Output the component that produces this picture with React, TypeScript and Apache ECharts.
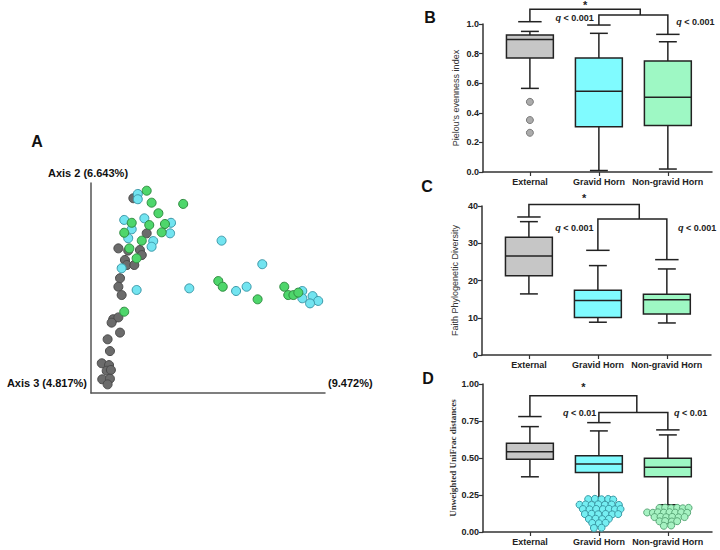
import React, { useEffect, useRef } from 'react';
import * as echarts from 'echarts';

// ---------- shared ----------
const categories = ['External', 'Gravid Horn', 'Non-gravid Horn'];
const categoryPositions = [0, 1, 2];
const boxFills = ['#c6c6c6', '#80fbff', '#9ef8c4'];

// ---------- Panel A: PCoA (arbitrary axis units) ----------
const pcoaExternal = [
  [18.1, 92.5], [23.8, 75.2], [11.7, 67.8], [15.9, 66.7], [20.9, 67.0], [21.7, 64.5],
  [14.5, 62.1], [15.3, 59.6], [18.5, 59.6], [12.4, 53.1], [11.7, 48.9], [13.1, 44.8],
  [9.5, 32.9], [11.7, 33.8], [8.8, 31.2], [12.4, 26.3], [7.1, 23.0], [8.1, 17.2],
  [4.6, 11.2], [7.7, 10.3], [6.7, 7.5], [8.5, 7.9], [4.8, 3.3], [8.1, 3.6], [7.1, 0.8],
];
const pcoaGravid = [
  [20.0, 94.6], [20.0, 92.0], [14.2, 81.8], [22.8, 82.6], [34.2, 80.4], [33.8, 75.2],
  [17.4, 77.2], [15.9, 72.8], [26.6, 71.4], [25.9, 68.6], [13.1, 58.0], [19.5, 47.3],
  [55.8, 71.6], [73.2, 60.0], [42.0, 48.1], [62.0, 46.8], [66.5, 48.9], [90.3, 46.8],
  [94.7, 44.3], [97.1, 41.9], [90.3, 43.2], [93.6, 40.7],
];
const pcoaNonGravid = [
  [23.8, 96.2], [25.9, 90.3], [39.4, 89.7], [28.8, 85.1], [17.4, 80.4], [24.9, 79.3],
  [31.6, 79.8], [14.2, 75.5], [30.2, 75.7], [21.7, 71.6], [16.4, 67.8], [19.5, 62.9],
  [14.2, 36.6], [54.4, 51.7], [56.3, 48.9], [71.2, 42.7], [82.6, 48.9], [84.3, 44.8],
  [86.5, 44.8], [88.6, 46.0],
];

// ---------- Panel B: Pielou's evenness ----------
// [category, lowerWhisker, q1, median, q3, upperWhisker]
const pielouBoxes = [
  [0, 0.565, 0.77, 0.895, 0.925, 0.95],
  [1, 0.01, 0.305, 0.545, 0.77, 0.937],
  [2, 0.02, 0.315, 0.505, 0.75, 0.88],
];
const pielouOutliers = [[0, 0.474], [0, 0.351], [0, 0.265]];
// [xLeft, yLeftStart, xRight, yRightStart, yTop, rightCap]
const pielouBrackets = [
  [0, 1.0155, 1.6, 1.06, 1.1, 0],
  [1, 0.993, 2, 0.93, 1.06, 1],
];
const pielouNotePos = [[0.65, 1.043], [2.4, 1.013], [0.8, 1.13]];
const pielouNoteText = ['q < 0.001', 'q < 0.001', '*'];

// ---------- Panel C: Faith PD ----------
const faithBoxes = [
  [0, 16.4, 21.3, 26.6, 31.6, 35.8],
  [1, 8.8, 10.1, 14.6, 17.4, 24.0],
  [2, 8.6, 11.0, 14.8, 16.3, 23.1],
];
const faithBrackets = [
  [0, 37.05, 1.6, 36.5, 40.4, 0],
  [1, 28.1, 2, 25.6, 36.5, 1],
];
const faithNotePos = [[0.66, 34.2], [2.44, 34.1], [0.8, 42.2]];
const faithNoteText = ['q < 0.001', 'q < 0.001', '*'];

// ---------- Panel D: Unweighted UniFrac ----------
const unifracBoxes = [
  [0, 0.373, 0.492, 0.543, 0.6, 0.712],
  [1, 0.229, 0.402, 0.46, 0.515, 0.683],
  [2, 0.184, 0.373, 0.438, 0.499, 0.656],
];
const unifracBrackets = [
  [0, 0.78, 1.55, 0.807, 0.921, 0],
  [1, 0.739, 2, 0.69, 0.807, 1],
];
const unifracNotePos = [[0.72, 0.802], [2.33, 0.802], [0.775, 0.98]];
const unifracNoteText = ['q < 0.01', 'q < 0.01', '*'];
// [offset from category, value]
const unifracGravidOutliers = [
  [-0.155, 0.222], [-0.058, 0.224], [0.039, 0.221], [0.135, 0.223], [0.208, 0.219],
  [-0.28, 0.184], [-0.193, 0.186], [-0.106, 0.183], [-0.01, 0.187], [0.087, 0.184], [0.184, 0.186], [0.29, 0.183],
  [-0.232, 0.155], [-0.135, 0.153], [-0.039, 0.156], [0.058, 0.154], [0.145, 0.157], [0.232, 0.153], [0.314, 0.155],
  [-0.203, 0.121], [-0.106, 0.123], [-0.01, 0.12], [0.097, 0.122], [0.193, 0.119], [0.28, 0.121],
  [-0.145, 0.088], [-0.048, 0.09], [0.048, 0.087], [0.145, 0.089],
  [-0.097, 0.061], [0, 0.059], [0.097, 0.062],
  [-0.072, 0.027], [0.039, 0.029],
];
const unifracNonGravidOutliers = [
  [-0.121, 0.162], [-0.039, 0.164], [0.048, 0.161], [0.135, 0.163], [0.217, 0.16], [0.3, 0.163],
  [-0.3, 0.132], [-0.217, 0.13], [-0.145, 0.133], [-0.058, 0.131], [0.024, 0.134], [0.106, 0.131], [0.193, 0.133], [0.28, 0.13],
  [-0.193, 0.101], [-0.106, 0.103], [-0.024, 0.1], [0.063, 0.102], [0.155, 0.099], [0.242, 0.101],
  [-0.121, 0.072], [-0.039, 0.074], [0.058, 0.071], [0.135, 0.073],
  [-0.058, 0.042], [0.048, 0.044],
];

const FONT = 'Liberation Sans, Arial, sans-serif';
const INK = '#222';

function boxRenderItem(params: any, api: any) {
  const x = api.value(0);
  const lo = api.value(1), q1 = api.value(2), md = api.value(3), q3 = api.value(4), hi = api.value(5);
  const hw = 0.34, cw = 0.13;
  const tl = api.coord([x - hw, q3]);
  const br = api.coord([x + hw, q1]);
  const top = api.coord([x, hi]);
  const bot = api.coord([x, lo]);
  const capL = api.coord([x - cw, hi])[0];
  const capR = api.coord([x + cw, hi])[0];
  const mdY = api.coord([x, md])[1];
  const st = { stroke: INK, lineWidth: 1.5, fill: null };
  return {
    type: 'group',
    children: [
      { type: 'line', shape: { x1: top[0], y1: top[1], x2: top[0], y2: tl[1] }, style: st },
      { type: 'line', shape: { x1: bot[0], y1: br[1], x2: bot[0], y2: bot[1] }, style: st },
      { type: 'line', shape: { x1: capL, y1: top[1], x2: capR, y2: top[1] }, style: st },
      { type: 'line', shape: { x1: capL, y1: bot[1], x2: capR, y2: bot[1] }, style: st },
      {
        type: 'rect',
        shape: { x: tl[0], y: tl[1], width: br[0] - tl[0], height: br[1] - tl[1] },
        style: { fill: api.visual('color'), stroke: INK, lineWidth: 1.5 },
      },
      { type: 'line', shape: { x1: tl[0], y1: mdY, x2: br[0], y2: mdY }, style: st },
    ],
  };
}

function boxData(rows: number[][]) {
  return rows.map((r, i) => ({ value: r, itemStyle: { color: boxFills[i] } }));
}

function bracketRenderItem(params: any, api: any) {
  const xl = api.value(0), yl = api.value(1), xr = api.value(2), yr = api.value(3), yt = api.value(4), rc = api.value(5);
  const cw = 0.17;
  const pl = api.coord([xl, yl]);
  const pr = api.coord([xr, yr]);
  const tL = api.coord([xl, yt]);
  const tR = api.coord([xr, yt]);
  const half = Math.abs(api.coord([xl + cw, yl])[0] - pl[0]);
  const st = { stroke: INK, lineWidth: 1.5, fill: null };
  const children: any[] = [
    { type: 'polyline', shape: { points: [pl, tL, tR, pr] }, style: st },
    { type: 'line', shape: { x1: pl[0] - half, y1: pl[1], x2: pl[0] + half, y2: pl[1] }, style: st },
  ];
  if (rc) children.push({ type: 'line', shape: { x1: pr[0] - half, y1: pr[1], x2: pr[0] + half, y2: pr[1] }, style: st });
  return { type: 'group', children };
}

function noteRenderItem(texts: string[]) {
  return (params: any, api: any) => {
    const p = api.coord([api.value(0), api.value(1)]);
    const t = texts[params.dataIndex];
    const isStar = t === '*';
    const txt = isStar ? '*' : '{i|q}' + t.slice(1);
    return {
      type: 'text',
      x: p[0],
      y: p[1],
      style: {
        text: txt,
        fill: INK,
        fontSize: isStar ? 11 : 9,
        fontWeight: 'bold',
        fontFamily: FONT,
        align: 'center',
        verticalAlign: 'middle',
        rich: { i: { fontStyle: 'italic', fontWeight: 'bold', fontSize: 9, fontFamily: FONT, fill: INK } },
      },
    };
  };
}

const boxGrids = [
  { left: 483, top: 24, width: 229, height: 148 },
  { left: 482, top: 206, width: 229, height: 149 },
  { left: 483, top: 384, width: 229, height: 148 },
];

function boxXAxis(gridIndex: number) {
  return {
    gridIndex,
    type: 'value',
    min: -0.68,
    max: 2.64,
    axisLine: { show: true, onZero: false, lineStyle: { color: '#333', width: 1.5 } },
    axisTick: { show: true, customValues: categoryPositions, length: 4, lineStyle: { color: '#333', width: 1.2 } },
    axisLabel: {
      customValues: categoryPositions,
      formatter: (v: number) => categories[Math.round(v)] ?? '',
      fontFamily: FONT,
      fontWeight: 'bold',
      fontSize: 9,
      color: INK,
      margin: 5,
    },
    splitLine: { show: false },
  };
}

function boxYAxis(gridIndex: number, max: number, interval: number, digits: number, name: string, serif = false) {
  return {
    gridIndex,
    type: 'value',
    min: 0,
    max,
    interval,
    name,
    nameLocation: 'middle',
    nameGap: 23,
    nameTextStyle: {
      fontFamily: serif ? 'Liberation Serif, Times New Roman, serif' : FONT,
      fontWeight: serif ? 'bold' : 'normal',
      fontSize: 9,
      color: '#333',
    },
    axisLine: { show: true, onZero: false, lineStyle: { color: '#333', width: 1.5 } },
    axisTick: { show: true, length: 4, lineStyle: { color: '#333', width: 1.2 } },
    axisLabel: {
      formatter: (v: number) => v.toFixed(digits),
      fontFamily: FONT,
      fontWeight: 'bold',
      fontSize: 9,
      color: INK,
      margin: 4,
    },
    splitLine: { show: false },
  };
}

function panelLetter(text: string, x: number, y: number) {
  return {
    type: 'text',
    x,
    y,
    style: { text, fill: '#111', fontSize: 16, fontWeight: 'bold', fontFamily: FONT, align: 'center', verticalAlign: 'middle', textAlign: 'center', textVerticalAlign: 'middle' },
  };
}

function axisText(text: string, x: number, y: number, align: string) {
  return {
    type: 'text',
    x,
    y,
    style: { text, fill: '#111', fontSize: 11, fontWeight: 'bold', fontFamily: FONT, align, verticalAlign: 'middle', textAlign: align, textVerticalAlign: 'middle' },
  };
}

function scatterStyle(color: string, border: string) {
  return { color, borderColor: border, borderWidth: 1, opacity: 1 };
}

export default function App() {
  const ref = useRef<HTMLDivElement>(null);
  useEffect(() => {
    if (!ref.current) return;
    const chart = echarts.init(ref.current, null, { renderer: 'svg' });
    const option: any = {
      animation: false,
      backgroundColor: '#fff',
      grid: [{ left: 91, top: 183, width: 234, height: 210 }, ...boxGrids],
      xAxis: [
        {
          gridIndex: 0, type: 'value', min: 0, max: 100,
          axisLine: { show: true, onZero: false, lineStyle: { color: '#555', width: 1.5 } },
          axisTick: { show: false }, axisLabel: { show: false }, splitLine: { show: false },
        },
        boxXAxis(1), boxXAxis(2), boxXAxis(3),
      ],
      yAxis: [
        {
          gridIndex: 0, type: 'value', min: -3.45, max: 100,
          axisLine: { show: true, onZero: false, lineStyle: { color: '#555', width: 1.5 } },
          axisTick: { show: false }, axisLabel: { show: false }, splitLine: { show: false },
        },
        boxYAxis(1, 1, 0.2, 1, "Pielou's evenness index"),
        boxYAxis(2, 40, 10, 0, 'Faith Phylogenetic Diversity'),
        boxYAxis(3, 1, 0.25, 2, 'Unweighted UniFrac distances', true),
      ],
      series: [
        // Panel A
        { type: 'scatter', xAxisIndex: 0, yAxisIndex: 0, symbolSize: 9, data: pcoaExternal, itemStyle: scatterStyle('#6b6b6b', '#4a4a4a') },
        { type: 'scatter', xAxisIndex: 0, yAxisIndex: 0, symbolSize: 9, data: pcoaGravid, itemStyle: scatterStyle('#72e4f0', '#3b98a8') },
        { type: 'scatter', xAxisIndex: 0, yAxisIndex: 0, symbolSize: 9, data: pcoaNonGravid, itemStyle: scatterStyle('#4ed66b', '#2e8b3f') },
        // Panel B
        { type: 'custom', xAxisIndex: 1, yAxisIndex: 1, renderItem: boxRenderItem, data: boxData(pielouBoxes), clip: false },
        { type: 'custom', xAxisIndex: 1, yAxisIndex: 1, renderItem: bracketRenderItem, data: pielouBrackets, clip: false },
        { type: 'custom', xAxisIndex: 1, yAxisIndex: 1, renderItem: noteRenderItem(pielouNoteText), data: pielouNotePos, clip: false },
        { type: 'scatter', xAxisIndex: 1, yAxisIndex: 1, symbolSize: 7, data: pielouOutliers, itemStyle: scatterStyle('#ababab', '#7a7a7a'), z: 5 },
        // Panel C
        { type: 'custom', xAxisIndex: 2, yAxisIndex: 2, renderItem: boxRenderItem, data: boxData(faithBoxes), clip: false },
        { type: 'custom', xAxisIndex: 2, yAxisIndex: 2, renderItem: bracketRenderItem, data: faithBrackets, clip: false },
        { type: 'custom', xAxisIndex: 2, yAxisIndex: 2, renderItem: noteRenderItem(faithNoteText), data: faithNotePos, clip: false },
        // Panel D
        { type: 'custom', xAxisIndex: 3, yAxisIndex: 3, renderItem: boxRenderItem, data: boxData(unifracBoxes), clip: false },
        { type: 'custom', xAxisIndex: 3, yAxisIndex: 3, renderItem: bracketRenderItem, data: unifracBrackets, clip: false },
        { type: 'custom', xAxisIndex: 3, yAxisIndex: 3, renderItem: noteRenderItem(unifracNoteText), data: unifracNotePos, clip: false },
        {
          type: 'scatter', xAxisIndex: 3, yAxisIndex: 3, symbolSize: 7, z: 5,
          data: unifracGravidOutliers.map(([dx, v]) => [1 + dx, v]),
          itemStyle: scatterStyle('#74eef2', '#3a9aa6'),
        },
        {
          type: 'scatter', xAxisIndex: 3, yAxisIndex: 3, symbolSize: 7, z: 5,
          data: unifracNonGravidOutliers.map(([dx, v]) => [2 + dx, v]),
          itemStyle: scatterStyle('#a6f2c2', '#5aa878'),
        },
      ],
      graphic: [
        panelLetter('A', 37, 141),
        panelLetter('B', 430, 17),
        panelLetter('C', 427, 186),
        panelLetter('D', 428, 378),
        axisText('Axis 2 (6.643%)', 88, 173, 'center'),
        axisText('Axis 3 (4.817%)', 87, 383, 'right'),
        axisText('(9.472%)', 328, 383, 'left'),
      ],
    };
    chart.setOption(option);
    return () => chart.dispose();
  }, []);
  return <div ref={ref} style={{ position: 'fixed', left: 0, top: 0, width: 720, height: 550 }} />;
}
